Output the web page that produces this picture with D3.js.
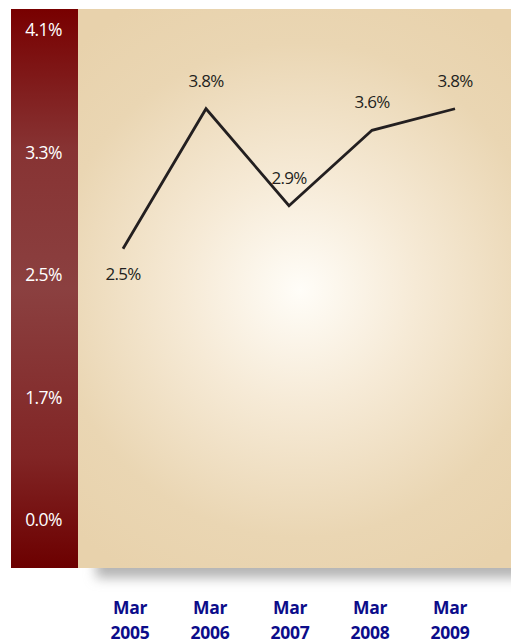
<!DOCTYPE html>
<html>
<head>
<meta charset="utf-8">
<script src="https://cdn.jsdelivr.net/npm/d3@7/dist/d3.min.js"></script>
<style>
  html, body { margin: 0; padding: 0; background: #ffffff; }
  svg { display: block; }
</style>
</head>
<body>
<script>
// Annual rate, March of each year
const periods = ["Mar 2005", "Mar 2006", "Mar 2007", "Mar 2008", "Mar 2009"];
const rates = [2.5, 3.8, 2.9, 3.6, 3.8];
const axisLabels = ["0.0%", "1.7%", "2.5%", "3.3%", "4.1%"];

const W = 511, H = 644;
const panel = { left: 78, right: 511, top: 9, bottom: 568 };
const bar = { left: 11, right: 78 };

const svg = d3.select("body").append("svg")
  .attr("width", W).attr("height", H);

const defs = svg.append("defs");

const bg = defs.append("radialGradient")
  .attr("id", "panelGlow")
  .attr("gradientUnits", "userSpaceOnUse")
  .attr("cx", 300).attr("cy", 290).attr("r", 330);
bg.append("stop").attr("offset", "0%").attr("stop-color", "#fffdf8");
bg.append("stop").attr("offset", "35%").attr("stop-color", "#f6ead6");
bg.append("stop").attr("offset", "75%").attr("stop-color", "#ead6b3");
bg.append("stop").attr("offset", "100%").attr("stop-color", "#e8d2ac");

const red = defs.append("linearGradient")
  .attr("id", "barShade").attr("x1", 0).attr("y1", 0).attr("x2", 0).attr("y2", 1);
red.append("stop").attr("offset", "0%").attr("stop-color", "#780000");
red.append("stop").attr("offset", "25%").attr("stop-color", "#873333");
red.append("stop").attr("offset", "50%").attr("stop-color", "#8b4040");
red.append("stop").attr("offset", "80%").attr("stop-color", "#812525");
red.append("stop").attr("offset", "100%").attr("stop-color", "#6c0000");

const blur = defs.append("filter").attr("id", "soft")
  .attr("x", "-10%").attr("y", "-100%").attr("width", "120%").attr("height", "300%");
blur.append("feGaussianBlur").attr("stdDeviation", 6);

// drop shadow under the panel
svg.append("rect")
  .attr("x", 96).attr("y", panel.bottom - 14)
  .attr("width", W - 80).attr("height", 24)
  .attr("fill", "#b4b4b4")
  .attr("filter", "url(#soft)");

// panel background
svg.append("rect")
  .attr("x", panel.left).attr("y", panel.top)
  .attr("width", panel.right - panel.left).attr("height", panel.bottom - panel.top)
  .attr("fill", "url(#panelGlow)");

// left axis band
svg.append("rect")
  .attr("x", bar.left).attr("y", panel.top)
  .attr("width", bar.right - bar.left).attr("height", panel.bottom - panel.top)
  .attr("fill", "url(#barShade)");

const axisScale = d3.scalePoint()
  .domain(axisLabels)
  .range([520, 30]);

const yAxis = svg.append("g")
  .attr("transform", `translate(${(bar.left + bar.right) / 2 - 1},0)`)
  .call(d3.axisLeft(axisScale).tickSize(0).tickPadding(0));
yAxis.select(".domain").remove();
yAxis.selectAll("text")
  .attr("text-anchor", "middle")
  .attr("fill", "#ffffff")
  .style("font-family", "'Open Sans', sans-serif")
  .style("font-size", "17.5px")
  .style("letter-spacing", "-0.6px");

const x = d3.scalePoint()
  .domain(periods)
  .range([123, 455]);

const y = d3.scaleLinear()
  .domain([0, 4.55])
  .range([518, 28]);

const points = periods.map((p, i) => ({ period: p, value: rates[i] }));

svg.append("path")
  .datum(points)
  .attr("fill", "none")
  .attr("stroke", "#231f20")
  .attr("stroke-width", 2.8)
  .attr("stroke-linejoin", "miter")
  .attr("d", d3.line().x(d => x(d.period)).y(d => y(d.value)));

svg.append("g").selectAll("text")
  .data(points)
  .join("text")
  .attr("x", d => x(d.period))
  .attr("y", (d, i) => i === 0 ? y(d.value) + 31 : y(d.value) - 22)
  .attr("text-anchor", "middle")
  .attr("fill", "#231f20")
  .style("font-family", "'Open Sans', sans-serif")
  .style("font-size", "17px")
  .style("letter-spacing", "-0.7px")
  .text(d => d.value.toFixed(1) + "%");

// period labels along the bottom
const xLabelScale = d3.scalePoint()
  .domain(periods)
  .range([130, 450]);

const xLab = svg.append("g").selectAll("text")
  .data(periods)
  .join("text")
  .attr("x", d => xLabelScale(d))
  .attr("y", 614)
  .attr("text-anchor", "middle")
  .attr("fill", "#0c0c8a")
  .style("font-family", "'Open Sans', sans-serif")
  .style("font-weight", "700")
  .style("font-size", "17.5px")
  .style("letter-spacing", "-0.3px");
xLab.each(function(d) {
  const parts = d.split(" ");
  const t = d3.select(this);
  t.append("tspan").attr("x", xLabelScale(d)).attr("dy", 0).text(parts[0]);
  t.append("tspan").attr("x", xLabelScale(d)).attr("dy", 25).text(parts[1]);
});
</script>
</body>
</html>
